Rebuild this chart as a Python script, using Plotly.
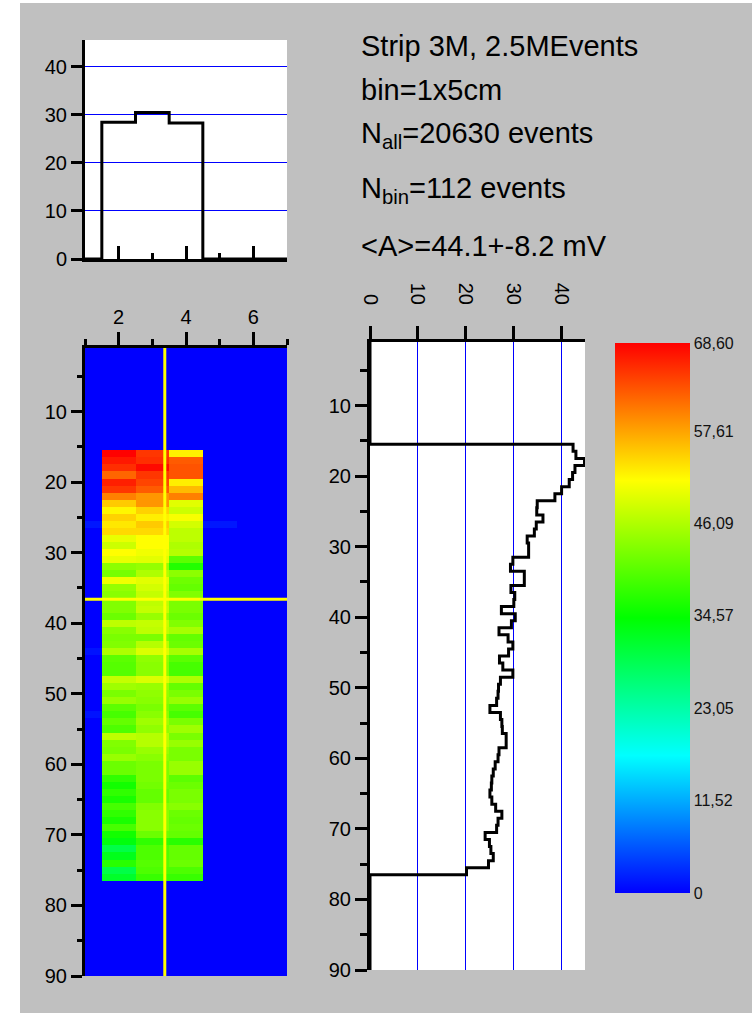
import plotly.graph_objects as go

W, H = 752, 1013

# ---- data -----------------------------------------------------------------
# mean amplitude per strip column (top histogram)
col_centers = [2, 3, 4]
col_amp = [28.5, 30.5, 28.3]

# mean amplitude per row (right profile), rows 16..76
row_first = 16
row_profile = [42.5, 43.1, 44.9, 42.9, 42.4, 41.7, 40.1, 38.7, 35.0, 34.9,
               36.2, 34.8, 34.4, 32.9, 33.2, 33.2, 29.9, 29.4, 32.3, 32.3,
               29.5, 30.3, 30.1, 27.5, 30.4, 29.6, 27.0, 28.9, 29.9, 29.0,
               27.1, 27.8, 29.9, 27.3, 26.9, 26.8, 26.5, 25.1, 27.3, 27.6,
               27.7, 28.5, 28.5, 27.0, 26.8, 26.2, 25.8, 25.5, 25.4, 25.1,
               25.5, 26.3, 27.6, 26.8, 26.5, 24.1, 25.0, 25.3, 25.8, 24.8, 20.2]

# 2D map: amplitude per cell for columns x=2, 3, 4 (rows 16..76)
map_x2 = [68.5, 67.0, 65.5, 61.8, 66.5, 65.0, 60.0, 55.0, 52.0, 54.5,
          53.0, 54.0, 50.0, 48.0, 51.5, 50.0, 43.7, 42.4, 50.5, 44.3,
          43.5, 43.0, 43.0, 41.5, 47.0, 43.5, 42.5, 43.0, 46.0, 40.5,
          40.0, 40.0, 47.5, 45.0, 42.5, 44.5, 40.5, 39.0, 41.0, 39.5,
          47.0, 43.0, 42.5, 44.5, 41.5, 41.5, 37.5, 35.5, 37.5, 36.0,
          39.0, 37.5, 36.0, 39.0, 35.5, 33.5, 29.5, 32.5, 37.0, 29.5, 31.5]
map_x3 = [65.0, 65.5, 68.0, 65.0, 64.0, 62.5, 58.5, 58.5, 54.5, 52.5,
          55.0, 54.0, 51.5, 51.5, 50.5, 49.5, 44.3, 46.0, 49.5, 48.5,
          47.5, 47.0, 47.5, 44.5, 47.5, 47.0, 42.5, 46.5, 49.0, 44.0,
          43.5, 43.5, 49.0, 44.5, 44.0, 43.5, 42.5, 43.5, 45.0, 44.0,
          46.5, 46.5, 44.5, 43.5, 42.5, 42.5, 42.5, 42.0, 41.0, 41.0,
          43.0, 43.5, 43.5, 43.5, 41.5, 37.5, 39.5, 39.5, 40.0, 39.5, 38.0]
map_x4 = [52.5, 62.5, 63.0, 63.0, 52.5, 56.0, 60.0, 49.5, 48.0, 51.0,
          48.5, 47.0, 47.0, 46.0, 46.5, 40.5, 36.5, 43.7, 41.7, 41.0,
          43.0, 42.5, 42.5, 41.5, 43.0, 45.5, 41.0, 41.5, 45.5, 40.5,
          39.0, 39.0, 46.0, 41.0, 42.5, 44.5, 40.5, 39.0, 42.5, 45.0,
          42.5, 44.5, 42.5, 42.5, 44.5, 44.5, 40.5, 41.5, 42.5, 42.5,
          43.5, 41.5, 41.0, 41.5, 41.0, 37.0, 41.0, 41.0, 41.5, 39.5, 38.0]
# isolated weak cells (x, y, amplitude)
weak_cells = [(1, 26, 1.5), (5, 26, 1.5), (1, 44, 1.2), (1, 53, 1.2)]

map_cols = list(range(1, 8))
map_rows = list(range(1, 91))

# selected bin cursor
cursor_x, cursor_y = 3.37, 36.6

z_max = 68.6
cbar_vals = [0, 11.52, 23.05, 34.57, 46.09, 57.61, 68.60]
cbar_text = ["0", "11,52", "23,05", "34,57", "46,09", "57,61", "68,60"]

info_lines = ["Strip 3M, 2.5MEvents",
              "bin=1x5cm",
              "N<sub>all</sub>=20630 events",
              "N<sub>bin</sub>=112 events",
              "&lt;A&gt;=44.1+-8.2 mV"]

# ---- build grid ------------------------------------------------------------
z = [[0.0] * len(map_cols) for _ in map_rows]
for i, (a, b, c) in enumerate(zip(map_x2, map_x3, map_x4)):
    r = row_first + i - 1
    z[r][1], z[r][2], z[r][3] = a, b, c
for cx, cy, v in weak_cells:
    z[cy - 1][cx - 1] = v

jet = [[0.0, "rgb(0,0,255)"], [0.25, "rgb(0,255,255)"], [0.5, "rgb(0,255,0)"],
       [0.75, "rgb(255,255,0)"], [1.0, "rgb(255,0,0)"]]


def fx(p):
    return p / W


def fy(p):
    return 1 - p / H


SANS = "Liberation Sans, Arial, sans-serif"
TICK_FONT = dict(family=SANS, size=20, color="black")
TEXT_FONT = dict(family=SANS, size=29, color="black")
GRID_BLUE = "#0000ff"

fig = go.Figure()

# amplitude map
fig.add_trace(go.Heatmap(
    x=map_cols, y=map_rows, z=z, colorscale=jet, zmin=0, zmax=z_max,
    xaxis="x2", yaxis="y2", hoverinfo="skip",
    colorbar=dict(x=fx(615), xanchor="left", xref="paper",
                  y=fy((343 + 893) / 2), yanchor="middle", yref="paper",
                  len=550, lenmode="pixels", thickness=75, thicknessmode="pixels",
                  outlinewidth=0, ticks="", tickvals=cbar_vals, ticktext=cbar_text,
                  tickfont=dict(family=SANS, size=16, color="#111"),
                  xpad=0, ypad=0),
))

# top histogram as step line
edges_x = [1] + [c - 0.5 for c in col_centers] + [col_centers[-1] + 0.5, 7]
edges_y = [0] + col_amp + [0, 0]
fig.add_trace(go.Scatter(x=edges_x, y=edges_y, mode="lines", line_shape="hv",
                         line=dict(color="black", width=3), xaxis="x", yaxis="y",
                         hoverinfo="skip", showlegend=False))

# right profile as step line
prof_y = ([1] + [row_first - 0.5 + k for k in range(len(row_profile))]
          + [row_first - 0.5 + len(row_profile), 90])
prof_x = [0] + row_profile + [0, 0]
fig.add_trace(go.Scatter(x=prof_x, y=prof_y, mode="lines", line_shape="vh",
                         line=dict(color="black", width=3), xaxis="x3", yaxis="y3",
                         hoverinfo="skip", showlegend=False))

axis_common = dict(showline=True, linecolor="black", linewidth=3, tickcolor="black",
                   tickwidth=2.5, tickfont=TICK_FONT, zeroline=False, fixedrange=True,
                   automargin=False)

fig.update_layout(
    width=W, height=H, margin=dict(l=0, r=0, t=0, b=0, autoexpand=False),
    paper_bgcolor="#c0c0c0", plot_bgcolor="white", showlegend=False,
    xaxis=dict(domain=[fx(85), fx(287)], range=[1, 7], anchor="y",
               tickvals=[2, 4, 6], ticks="inside", ticklen=13, showticklabels=False,
               showgrid=False,
               minor=dict(tickvals=[3, 5, 7], ticks="inside", ticklen=6, tickwidth=2.5,
                          tickcolor="black", showgrid=False),
               **axis_common),
    yaxis=dict(domain=[fy(259), fy(40)], range=[0, 45.6], anchor="x",
               tickvals=[0, 10, 20, 30, 40], ticks="outside", ticklen=11,
               showgrid=True, gridcolor=GRID_BLUE, gridwidth=1.4,
               **axis_common),
    xaxis2=dict(domain=[fx(85), fx(287)], range=[1, 7], anchor="y2", side="top",
                tickvals=[2, 4, 6], ticks="outside", ticklen=13, showgrid=False,
                minor=dict(tickvals=[1, 3, 5, 7], ticks="outside", ticklen=6, tickwidth=2.5,
                           tickcolor="black", showgrid=False),
                **axis_common),
    yaxis2=dict(domain=[fy(976), fy(348)], range=[90, 1], anchor="x2",
                tickvals=list(range(10, 91, 10)), ticks="outside", ticklen=11, showgrid=False,
                minor=dict(tickvals=list(range(5, 90, 10)), ticks="outside", ticklen=5,
                           tickwidth=2.5, tickcolor="black", showgrid=False),
                **axis_common),
    xaxis3=dict(domain=[fx(370), fx(585)], range=[0, 45], anchor="y3", side="top",
                tickvals=[0, 10, 20, 30, 40], ticks="outside", ticklen=13, tickangle=90,
                ticklabelstandoff=14,
                showgrid=True, gridcolor=GRID_BLUE, gridwidth=1.4,
                **axis_common),
    yaxis3=dict(domain=[fy(970), fy(342)], range=[90, 1], anchor="x3",
                tickvals=list(range(10, 91, 10)), ticks="outside", ticklen=12, showgrid=False,
                minor=dict(tickvals=list(range(5, 90, 10)), ticks="outside", ticklen=7,
                           tickwidth=2.5, tickcolor="black", showgrid=False),
                **axis_common),
)

# selected-bin cursor on the map
fig.add_shape(type="line", xref="x2", yref="y2", x0=cursor_x, x1=cursor_x, y0=1, y1=90,
              line=dict(color="#ffff00", width=3))
fig.add_shape(type="line", xref="x2", yref="y2", x0=1, x1=7, y0=cursor_y, y1=cursor_y,
              line=dict(color="#ffff00", width=3))

# white page border on the left and top
fig.add_shape(type="rect", xref="paper", yref="paper", x0=0, x1=fx(20), y0=0, y1=1,
              fillcolor="white", line=dict(width=0), layer="above")
fig.add_shape(type="rect", xref="paper", yref="paper", x0=0, x1=1, y0=fy(3), y1=1,
              fillcolor="white", line=dict(width=0), layer="above")

# info text block
baselines = [56, 100, 145, 200, 256]
for txt, base in zip(info_lines, baselines):
    fig.add_annotation(text=txt, xref="paper", yref="paper", x=fx(359), y=fy(base - 10),
                       xanchor="left", yanchor="middle", showarrow=False, font=TEXT_FONT,
                       align="left")

fig.write_html("out.html")
